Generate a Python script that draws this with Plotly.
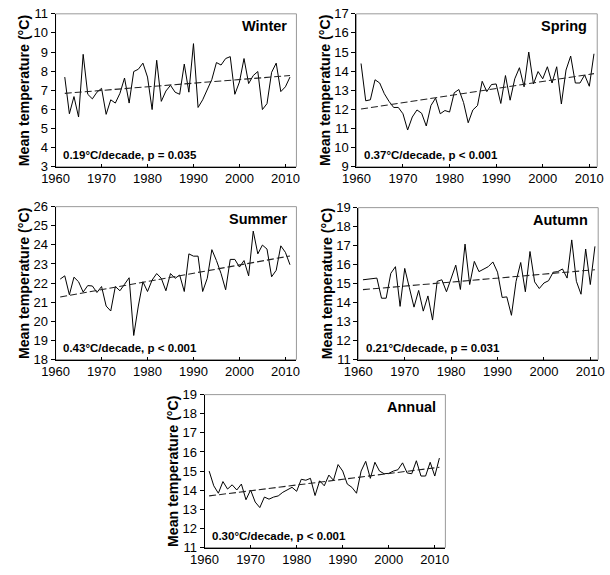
import plotly.graph_objects as go

W, H = 610, 575

# data
years_winter = list(range(1962, 2012))
years = list(range(1961, 2012))

winter = [7.69, 5.77, 6.67, 5.6, 8.88, 6.79, 6.55, 6.9, 7.1, 5.74,
          6.5, 6.33, 6.84, 7.64, 6.33, 7.98, 8.1, 8.42, 7.69, 5.99,
          8.57, 6.42, 6.96, 7.26, 6.9, 6.79, 8.37, 6.9, 9.44, 6.1,
          6.5, 7.0, 7.57, 8.45, 8.32, 8.66, 8.76, 6.79, 7.43, 8.66,
          7.35, 7.77, 7.98, 5.99, 6.3, 7.94, 8.42, 6.93, 7.18, 7.69]
spring = [14.4, 12.45, 12.5, 13.55, 13.38, 12.82, 12.42, 12.1, 12.1, 11.77,
          10.92, 11.6, 11.97, 11.8, 11.13, 12.2, 12.59, 11.77, 11.94, 11.86,
          12.87, 13.04, 12.36, 11.3, 11.97, 12.2, 13.47, 12.93, 13.3, 13.33,
          12.31, 13.77, 12.48, 13.6, 14.18, 13.18, 15.0, 13.33, 13.98, 13.6,
          14.23, 13.38, 14.23, 12.28, 14.06, 14.79, 13.38, 13.38, 13.8, 13.21,
          14.91]
summer = [22.21, 22.38, 21.39, 22.31, 22.07, 21.53, 21.87, 21.85, 21.51, 21.82,
          20.8, 20.54, 21.82, 21.6, 21.94, 22.28, 19.26, 20.8, 22.07, 21.56,
          22.16, 22.5, 22.25, 21.6, 22.5, 22.25, 22.42, 21.56, 23.53, 23.41,
          23.41, 21.56, 22.25, 23.75, 23.18, 22.5, 21.65, 23.24, 23.24, 22.84,
          23.18, 22.38, 24.72, 23.53, 23.99, 23.78, 22.33, 22.67, 23.95, 23.61,
          22.96]
autumn = [15.2, 15.23, 15.26, 15.29, 14.23, 14.23, 15.54, 15.89, 13.8, 15.8,
          14.78, 13.76, 14.64, 13.55, 14.35, 13.08, 15.12, 15.2, 14.57, 15.26,
          15.97, 14.69, 17.08, 14.95, 16.17, 15.63, 15.77, 15.89, 16.14, 15.6,
          14.27, 14.3, 13.33, 15.12, 16.11, 14.57, 16.69, 15.09, 14.74, 15.03,
          15.15, 15.6, 15.63, 15.77, 15.29, 17.3, 15.12, 14.44, 16.82, 14.95,
          16.96]
annual = [15.0, 14.23, 13.84, 14.45, 14.06, 14.28, 14.01, 14.32, 13.5, 14.01,
          13.38, 13.09, 13.64, 13.53, 13.64, 13.7, 13.89, 14.01, 14.15, 13.94,
          14.57, 14.52, 14.62, 13.72, 14.49, 14.23, 14.79, 14.52, 15.34, 15.0,
          14.32, 14.15, 13.84, 15.0, 15.51, 14.62, 15.46, 15.0, 14.86, 14.88,
          15.0, 15.07, 15.43, 14.9, 14.86, 15.54, 14.74, 14.74, 15.46, 14.74,
          15.68]

# trend line end points (first year, last year)
trend_x = [[1962, 2011], [1961, 2011], [1961, 2011], [1961, 2011], [1961, 2011]]
trend_y = [[6.84, 7.77], [12.02, 13.87], [21.27, 23.42], [14.68, 15.73], [13.7, 15.2]]

names = ["Winter", "Spring", "Summer", "Autumn", "Annual"]
stats = ["0.19\u00b0C/decade, p = 0.035", "0.37\u00b0C/decade, p < 0.001",
         "0.43\u00b0C/decade, p < 0.001", "0.21\u00b0C/decade, p = 0.031",
         "0.30\u00b0C/decade, p < 0.001"]
y_ranges = [[3, 11], [9, 17], [18, 26], [11, 19], [11, 19]]
series_x = [years_winter, years, years, years, years]
series_y = [winter, spring, summer, autumn, annual]

# panel boxes in pixels: left, right, top, bottom, last year shown at right edge
boxes = [(43, 292, 7, 164, 2012.4), (354, 603, 7, 164, 2011.7),
         (43, 292, 205, 362, 2012.4), (356, 604, 206, 362, 2011.7),
         (197, 446, 398, 555, 2012.3)]

font = "Arial, Liberation Sans, sans-serif"


def px_x(v):
    return v / W


def px_y(v):
    return 1 - v / H


fig = go.Figure()
annotations = []
shapes = []

for i, name in enumerate(names):
    sfx = "" if i == 0 else str(i + 1)
    xa, ya = "x" + sfx, "y" + sfx
    l, r, t, b, xmax = boxes[i]

    fig.add_trace(go.Scatter(x=series_x[i], y=series_y[i], mode="lines",
                             line=dict(color="black", width=1),
                             xaxis=xa, yaxis=ya, showlegend=False))
    fig.add_trace(go.Scatter(x=trend_x[i], y=trend_y[i], mode="lines",
                             line=dict(color="#222", width=1.1, dash="7px,3px"),
                             xaxis=xa, yaxis=ya, showlegend=False))

    fig.layout["xaxis" + sfx] = dict(
        domain=[px_x(l), px_x(r)], anchor=ya, range=[1960, xmax],
        tickvals=[1960, 1970, 1980, 1990, 2000, 2010], ticks="inside",
        ticklen=3, tickcolor="black", showline=True, linecolor="black",
        linewidth=1, showgrid=False, zeroline=False, ticklabeloverflow="allow",
        tickfont=dict(family=font, size=13, color="black"))
    fig.layout["yaxis" + sfx] = dict(
        domain=[px_y(b), px_y(t)], anchor=xa, range=y_ranges[i], dtick=1,
        ticks="outside", ticklen=4, tickcolor="black", showline=True,
        linecolor="black", linewidth=1, showgrid=False, zeroline=False,
        ticklabeloverflow="allow",
        tickfont=dict(family=font, size=13, color="black"))

    # light frame around the plot area
    shapes.append(dict(type="rect", xref=xa + " domain", yref=ya + " domain",
                       x0=0, x1=1, y0=0, y1=1, layer="below",
                       line=dict(color="#999", width=1)))

    annotations.append(dict(text="<b>%s</b>" % name, xref="paper", yref="paper",
                            x=px_x(r - 8), y=px_y(t + 13), xanchor="right",
                            yanchor="middle", showarrow=False,
                            font=dict(family=font, size=14.5, color="black")))
    annotations.append(dict(text="<b>%s</b>" % stats[i], xref="paper", yref="paper",
                            x=px_x(l + 6), y=px_y(b - 12), xanchor="left",
                            yanchor="middle", showarrow=False,
                            font=dict(family=font, size=11.5, color="black")))
    annotations.append(dict(text="<b>Mean temperature (\u00b0C)</b>",
                            xref="paper", yref="paper", textangle=-90,
                            x=px_x(l - 43), y=px_y((t + b) / 2), xanchor="left",
                            yanchor="middle", showarrow=False,
                            font=dict(family=font, size=14.2, color="black")))

fig.update_layout(width=W, height=H, margin=dict(l=0, r=0, t=0, b=0),
                  paper_bgcolor="white", plot_bgcolor="white",
                  annotations=annotations, shapes=shapes)

# the page body has a default 8px margin; drop it so the figure sits at 0,0
fig.write_html("out.html", config={"displayModeBar": False},
               post_script="document.body.style.margin='0';")
